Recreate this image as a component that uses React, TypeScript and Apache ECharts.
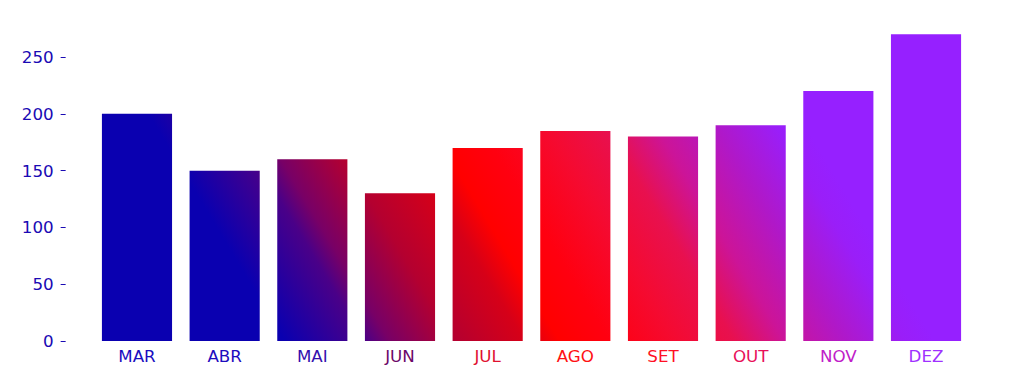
import React, { useEffect, useRef } from "react";
import * as echarts from "echarts";

const months = ["MAR", "ABR", "MAI", "JUN", "JUL", "AGO", "SET", "OUT", "NOV", "DEZ"];
const values = [200, 150, 160, 130, 170, 185, 180, 190, 220, 270];
const yTicks = [0, 50, 100, 150, 200, 250];
const labelColors = [
  "#1a0cc0", "#1e0cbe", "#3410ae", "#6c0868", "#e01030",
  "#ff1014", "#ff1024", "#e81058", "#c020c8", "#a030ff",
];
// gradient stops along s = x - 0.6*y (page px), s in [0, 800]
const gradStops: [number, string][] = [
  [80, "#0a00b0"],
  [160, "#4a0088"],
  [185, "#780066"],
  [250, "#b40030"],
  [320, "#d60018"],
  [355, "#ff0000"],
  [405, "#ff0010"],
  [470, "#f50a30"],
  [530, "#e8104f"],
  [580, "#cc1498"],
  [640, "#b018c8"],
  [700, "#9a1ef8"],
  [730, "#9620ff"],
];

export default function App() {
  const ref = useRef<HTMLDivElement>(null);
  useEffect(() => {
    if (!ref.current) return;
    const chart = echarts.init(ref.current, null, { renderer: "svg" });
    const span = 800;
    const c = span / 1.36;
    const grad = new echarts.graphic.LinearGradient(
      0,
      0,
      c,
      -0.6 * c,
      gradStops.map(([s, color]) => ({ offset: s / span, color })),
      true
    );
    const font = "DejaVu Sans";
    chart.setOption({
      animation: false,
      backgroundColor: "#ffffff",
      grid: { left: 93.15, right: 54.15, top: 19, bottom: 43, containLabel: false },
      xAxis: {
        type: "category",
        data: months.map((m, i) => ({ value: m, textStyle: { color: labelColors[i] } })),
        axisLine: { show: false },
        axisTick: { show: false },
        axisLabel: { fontFamily: font, fontSize: 16.7, margin: 6 },
        splitLine: { show: false },
      },
      yAxis: {
        type: "value",
        min: 0,
        max: 283.5,
        interval: 50,
        offset: 27.5,
        axisLine: { show: false },
        axisTick: {
          show: true,
          length: 5,
          customValues: yTicks,
          lineStyle: { color: "#1a0ab4", width: 1 },
        },
        axisLabel: {
          customValues: yTicks,
          fontFamily: font,
          fontSize: 16.7,
          color: "#1a0ab4",
          margin: 12,
        },
        splitLine: { show: false },
      },
      series: [
        {
          type: "bar",
          data: values,
          barWidth: "80%",
          itemStyle: { color: grad },
        },
      ],
    });
    return () => chart.dispose();
  }, []);
  return (
    <div
      ref={ref}
      style={{ position: "absolute", left: 0, top: 0, width: 1024, height: 384 }}
    />
  );
}
